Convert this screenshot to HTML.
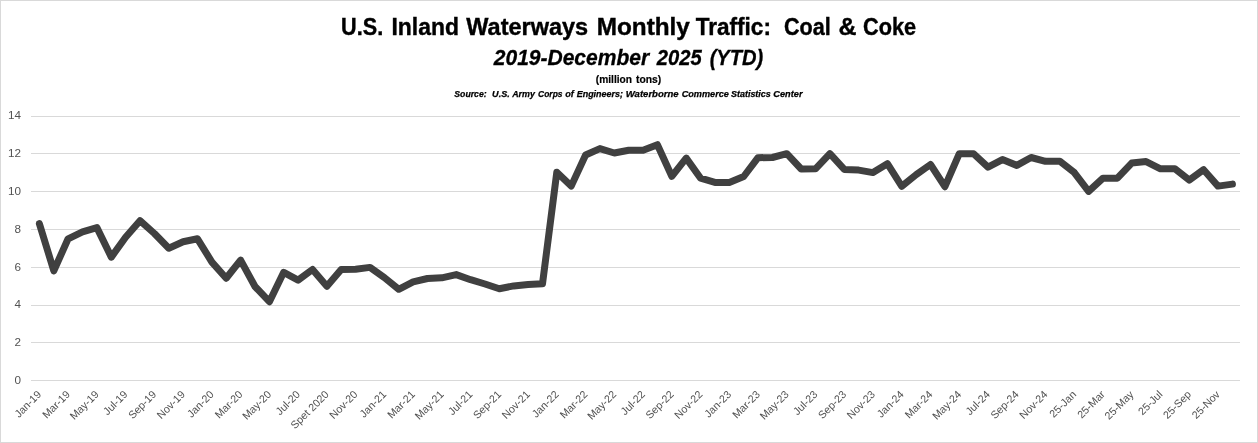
<!DOCTYPE html>
<html><head><meta charset="utf-8"><title>chart</title>
<style>
html,body{margin:0;padding:0;background:#fff;}
body{width:1258px;height:443px;overflow:hidden;font-family:"Liberation Sans",sans-serif;}
svg{display:block;will-change:transform;font-family:"Liberation Sans",sans-serif;}
</style></head><body>
<svg width="1258" height="443" viewBox="0 0 1258 443">
<rect x="0" y="0" width="1258" height="443" fill="#ffffff"/>
<rect x="0.5" y="0.5" width="1257" height="442" fill="none" stroke="#d9d9d9" stroke-width="1"/>

<g stroke="#d9d9d9" stroke-width="1" shape-rendering="crispEdges">
<line x1="31.2" y1="116.5" x2="1239.5" y2="116.5"/>
<line x1="31.2" y1="153.5" x2="1239.5" y2="153.5"/>
<line x1="31.2" y1="191.5" x2="1239.5" y2="191.5"/>
<line x1="31.2" y1="229.5" x2="1239.5" y2="229.5"/>
<line x1="31.2" y1="267.5" x2="1239.5" y2="267.5"/>
<line x1="31.2" y1="305.5" x2="1239.5" y2="305.5"/>
<line x1="31.2" y1="342.5" x2="1239.5" y2="342.5"/>
<line x1="31.2" y1="380.5" x2="1239.5" y2="380.5"/>
</g>
<g font-size="11.7px" fill="#525252" text-anchor="end">
<text x="20.9" y="384.1">0</text>
<text x="20.9" y="346.3">2</text>
<text x="20.9" y="308.4">4</text>
<text x="20.9" y="270.5">6</text>
<text x="20.9" y="232.7">8</text>
<text x="20.9" y="194.8">10</text>
<text x="20.9" y="156.9">12</text>
<text x="20.9" y="119.0">14</text>
</g>
<g font-size="10.7px" fill="#525252" text-anchor="end">
<text transform="translate(42.0,395.1) rotate(-45)" x="0" y="0">Jan-19</text>
<text transform="translate(70.7,395.1) rotate(-45)" x="0" y="0">Mar-19</text>
<text transform="translate(99.5,395.1) rotate(-45)" x="0" y="0">May-19</text>
<text transform="translate(128.2,395.1) rotate(-45)" x="0" y="0">Jul-19</text>
<text transform="translate(157.0,395.1) rotate(-45)" x="0" y="0">Sep-19</text>
<text transform="translate(185.7,395.1) rotate(-45)" x="0" y="0">Nov-19</text>
<text transform="translate(214.5,395.1) rotate(-45)" x="0" y="0">Jan-20</text>
<text transform="translate(243.2,395.1) rotate(-45)" x="0" y="0">Mar-20</text>
<text transform="translate(272.0,395.1) rotate(-45)" x="0" y="0">May-20</text>
<text transform="translate(300.7,395.1) rotate(-45)" x="0" y="0">Jul-20</text>
<text transform="translate(329.5,395.1) rotate(-45)" x="0" y="0">Spet 2020</text>
<text transform="translate(358.2,395.1) rotate(-45)" x="0" y="0">Nov-20</text>
<text transform="translate(387.0,395.1) rotate(-45)" x="0" y="0">Jan-21</text>
<text transform="translate(415.7,395.1) rotate(-45)" x="0" y="0">Mar-21</text>
<text transform="translate(444.4,395.1) rotate(-45)" x="0" y="0">May-21</text>
<text transform="translate(473.2,395.1) rotate(-45)" x="0" y="0">Jul-21</text>
<text transform="translate(501.9,395.1) rotate(-45)" x="0" y="0">Sep-21</text>
<text transform="translate(530.7,395.1) rotate(-45)" x="0" y="0">Nov-21</text>
<text transform="translate(559.4,395.1) rotate(-45)" x="0" y="0">Jan-22</text>
<text transform="translate(588.2,395.1) rotate(-45)" x="0" y="0">Mar-22</text>
<text transform="translate(616.9,395.1) rotate(-45)" x="0" y="0">May-22</text>
<text transform="translate(645.7,395.1) rotate(-45)" x="0" y="0">Jul-22</text>
<text transform="translate(674.4,395.1) rotate(-45)" x="0" y="0">Sep-22</text>
<text transform="translate(703.2,395.1) rotate(-45)" x="0" y="0">Nov-22</text>
<text transform="translate(731.9,395.1) rotate(-45)" x="0" y="0">Jan-23</text>
<text transform="translate(760.6,395.1) rotate(-45)" x="0" y="0">Mar-23</text>
<text transform="translate(789.4,395.1) rotate(-45)" x="0" y="0">May-23</text>
<text transform="translate(818.1,395.1) rotate(-45)" x="0" y="0">Jul-23</text>
<text transform="translate(846.9,395.1) rotate(-45)" x="0" y="0">Sep-23</text>
<text transform="translate(875.6,395.1) rotate(-45)" x="0" y="0">Nov-23</text>
<text transform="translate(904.4,395.1) rotate(-45)" x="0" y="0">Jan-24</text>
<text transform="translate(933.1,395.1) rotate(-45)" x="0" y="0">Mar-24</text>
<text transform="translate(961.9,395.1) rotate(-45)" x="0" y="0">May-24</text>
<text transform="translate(990.6,395.1) rotate(-45)" x="0" y="0">Jul-24</text>
<text transform="translate(1019.4,395.1) rotate(-45)" x="0" y="0">Sep-24</text>
<text transform="translate(1048.1,395.1) rotate(-45)" x="0" y="0">Nov-24</text>
<text transform="translate(1076.9,395.1) rotate(-45)" x="0" y="0">25-Jan</text>
<text transform="translate(1105.6,395.1) rotate(-45)" x="0" y="0">25-Mar</text>
<text transform="translate(1134.3,395.1) rotate(-45)" x="0" y="0">25-May</text>
<text transform="translate(1163.1,395.1) rotate(-45)" x="0" y="0">25-Jul</text>
<text transform="translate(1191.8,395.1) rotate(-45)" x="0" y="0">25-Sep</text>
<text transform="translate(1220.6,395.1) rotate(-45)" x="0" y="0">25-Nov</text>
</g>
<polyline points="39.4,223.7 53.8,270.8 68.1,238.8 82.5,231.8 96.9,227.6 111.3,257.1 125.6,237.3 140.0,220.7 154.4,233.5 168.8,248.2 183.1,241.8 197.5,238.8 211.9,262.1 226.2,278.2 240.6,260.1 255.0,286.5 269.4,301.7 283.7,272.3 298.1,280.1 312.5,269.5 326.9,286.3 341.2,269.5 355.6,269.3 370.0,267.4 384.4,277.6 398.7,289.3 413.1,281.9 427.5,278.5 441.8,277.8 456.2,274.6 470.6,279.7 485.0,284.0 499.3,288.7 513.7,285.9 528.1,284.4 542.5,283.8 556.8,172.2 571.2,186.1 585.6,155.0 599.9,148.6 614.3,153.0 628.7,150.3 643.1,150.3 657.4,144.7 671.8,176.3 686.2,158.1 700.6,178.2 714.9,182.4 729.3,182.4 743.7,176.5 758.0,157.7 772.4,157.5 786.8,153.7 801.2,169.0 815.5,168.8 829.9,153.7 844.3,169.4 858.7,170.1 873.0,172.6 887.4,163.7 901.8,186.3 916.2,174.6 930.5,164.5 944.9,186.7 959.3,153.7 973.6,153.7 988.0,167.1 1002.4,159.6 1016.8,165.4 1031.1,157.5 1045.5,161.3 1059.9,161.3 1074.3,172.6 1088.6,191.4 1103.0,178.2 1117.4,178.2 1131.7,163.1 1146.1,161.6 1160.5,168.8 1174.9,168.8 1189.2,180.1 1203.6,169.7 1218.0,186.1 1232.4,184.1" fill="none" stroke="#404040" stroke-width="7" stroke-linejoin="round" stroke-linecap="round"/>
<g font-size="24.2px" font-weight="bold"  fill="#000" stroke="#000" stroke-width="0.4">
<text x="341.1" y="34.9" textLength="42.1" lengthAdjust="spacingAndGlyphs">U.S.</text>
<text x="391.5" y="34.9" textLength="67.4" lengthAdjust="spacingAndGlyphs">Inland</text>
<text x="466.3" y="34.9" textLength="121.9" lengthAdjust="spacingAndGlyphs">Waterways</text>
<text x="596.7" y="34.9" textLength="93.2" lengthAdjust="spacingAndGlyphs">Monthly</text>
<text x="695.7" y="34.9" textLength="75.2" lengthAdjust="spacingAndGlyphs">Traffic:</text>
<text x="783.9" y="34.9" textLength="46.8" lengthAdjust="spacingAndGlyphs">Coal</text>
<text x="838.4" y="34.9" textLength="18.0" lengthAdjust="spacingAndGlyphs">&amp;</text>
<text x="863.1" y="34.9" textLength="53.1" lengthAdjust="spacingAndGlyphs">Coke</text>
</g>
<g font-size="21.4px" font-weight="bold" font-style="italic" fill="#000" stroke="#000" stroke-width="0.3">
<text x="493.8" y="64.8" textLength="155.3" lengthAdjust="spacingAndGlyphs">2019-December</text>
<text x="656.7" y="64.8" textLength="45.0" lengthAdjust="spacingAndGlyphs">2025</text>
<text x="709.7" y="64.8" textLength="53.5" lengthAdjust="spacingAndGlyphs">(YTD)</text>
</g>
<g font-size="11.2px" font-weight="bold"  fill="#000" stroke="#000" stroke-width="0.2">
<text x="595.8" y="82.5" textLength="36.2" lengthAdjust="spacingAndGlyphs">(million</text>
<text x="636.1" y="82.5" textLength="25.2" lengthAdjust="spacingAndGlyphs">tons)</text>
</g>
<g font-size="8.9px" font-weight="bold" font-style="italic" fill="#000" stroke="#000" stroke-width="0.25">
<text x="454.3" y="96.6" textLength="32.3" lengthAdjust="spacingAndGlyphs">Source:</text>
<text x="492.1" y="96.6" textLength="17.6" lengthAdjust="spacingAndGlyphs">U.S.</text>
<text x="512.2" y="96.6" textLength="22.7" lengthAdjust="spacingAndGlyphs">Army</text>
<text x="538.1" y="96.6" textLength="24.4" lengthAdjust="spacingAndGlyphs">Corps</text>
<text x="565.3" y="96.6" textLength="8.6" lengthAdjust="spacingAndGlyphs">of</text>
<text x="576.7" y="96.6" textLength="46.3" lengthAdjust="spacingAndGlyphs">Engineers;</text>
<text x="625.8" y="96.6" textLength="52.8" lengthAdjust="spacingAndGlyphs">Waterborne</text>
<text x="681.7" y="96.6" textLength="47.2" lengthAdjust="spacingAndGlyphs">Commerce</text>
<text x="731.0" y="96.6" textLength="39.8" lengthAdjust="spacingAndGlyphs">Statistics</text>
<text x="773.3" y="96.6" textLength="29.2" lengthAdjust="spacingAndGlyphs">Center</text>
</g>
</svg></body></html>
